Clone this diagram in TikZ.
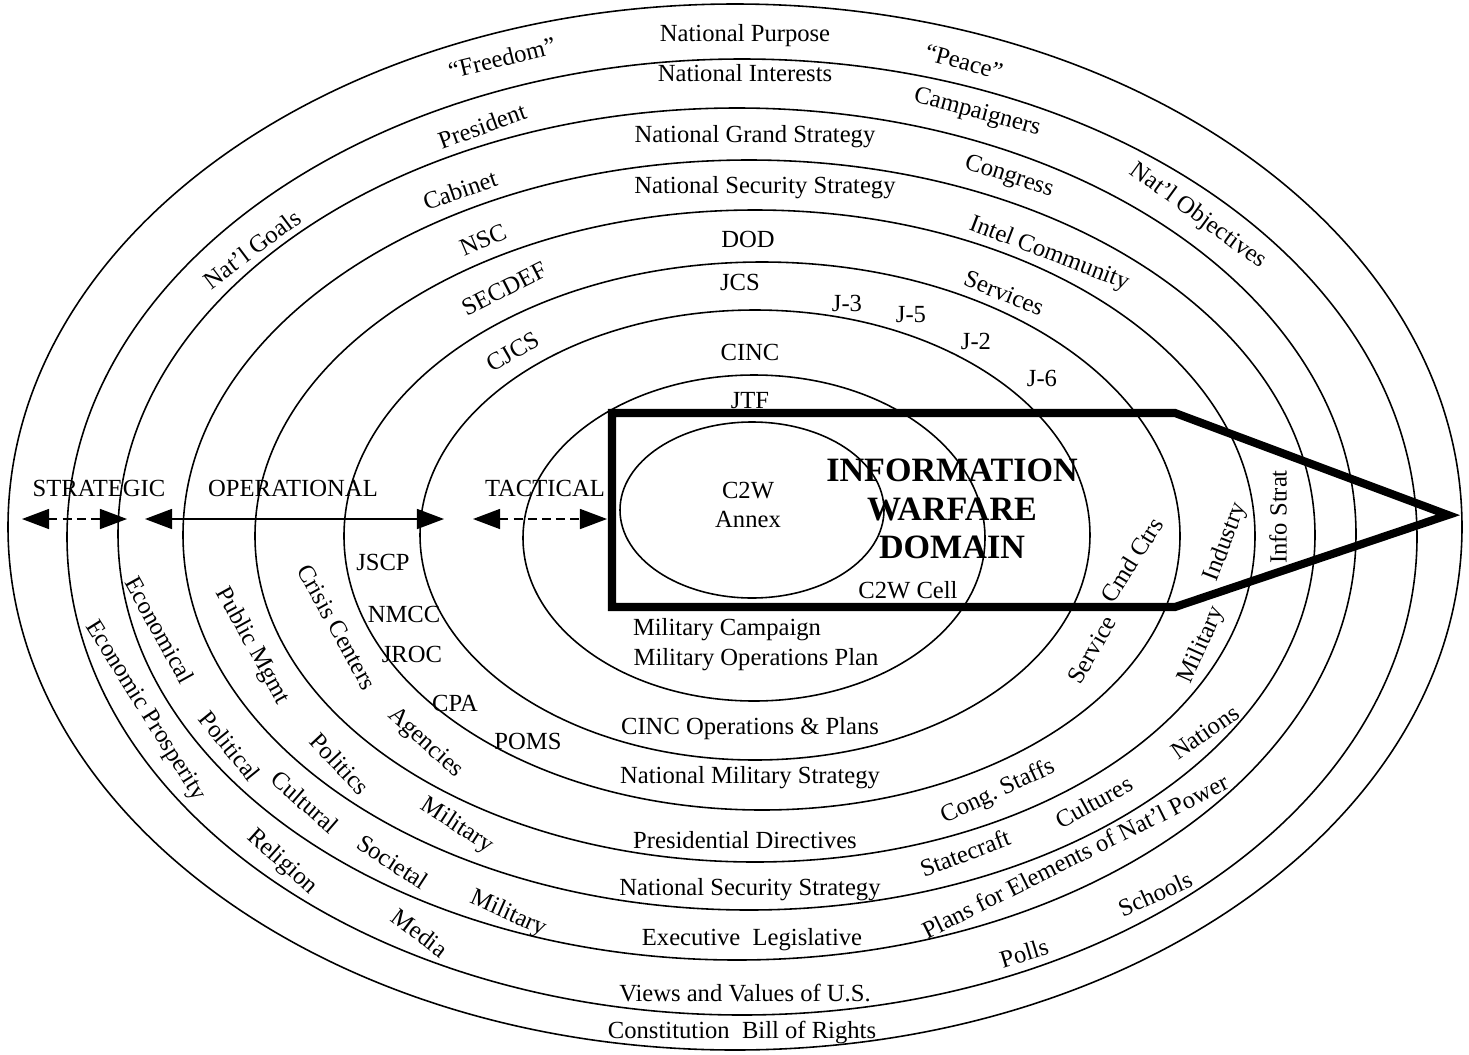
\documentclass[tikz,border=0pt]{standalone}
\usepackage{fontspec}
\setmainfont{Liberation Serif}
\usetikzlibrary{arrows.meta}
\tikzset{
  ring/.style={line width=0.45pt},
  iwbox/.style={line width=2.3pt, line join=miter},
  lbl/.style={font=\fontsize{7}{8.5}\selectfont, inner sep=0pt, align=center},
  bigtxt/.style={font=\fontsize{9.7}{11}\selectfont\bfseries, inner sep=0pt, align=center},
  span/.style={line width=0.4pt, {Triangle[length=0.27cm,width=0.2cm]}-{Triangle[length=0.27cm,width=0.2cm]}},
  dashspan/.style={span, dash pattern=on 2.5pt off 1.5pt}
}
\begin{document}
\begin{tikzpicture}[x=0.01cm,y=-0.01cm]
    \useasboundingbox (0,0) rectangle (1469,1054);

   %RINGS
    \foreach \cx/\cy/\rx/\ry in {735/527/727/523, 742/537/675/478, 737/534/619/426,
        749/535/566/375, 755/536/500/326, 762/536/418/274, 755/535/335/225,
        754/538/231/163, 752/510/132/88}
      \draw[ring] (\cx,\cy) ellipse ({\rx} and {\ry});

   %INFORMATION WARFARE DOMAIN
    \draw[iwbox] (612,413) -- (1175,413) -- (1448,515) -- (1175,607) -- (612,607) -- cycle;
    \node[bigtxt] (iwd) at (952,509) {INFORMATION\\WARFARE\\DOMAIN};

   %LEVEL ARROWS
    \coordinate (stratL) at (22,519);
    \coordinate (stratR) at (127,519);
    \coordinate (operL) at (145,519);
    \coordinate (operR) at (444,519);
    \coordinate (tactL) at (473,519);
    \coordinate (tactR) at (607,519);
    \draw[dashspan] (stratL) -- (stratR);
    \draw[span] (operL) -- (operR);
    \draw[dashspan] (tactL) -- (tactR);
    \node[lbl] (strategic) at (99,488) {STRATEGIC};
    \node[lbl] (operational) at (293,488) {OPERATIONAL};
    \node[lbl] (tactical) at (545,488) {TACTICAL};

   %CENTRE COLUMN
    \node[lbl] (purpose) at (745,36) {National Purpose};
    \node[lbl] (interests) at (745,73) {National Interests};
    \node[lbl] (grand) at (755,137) {National Grand Strategy};
    \node[lbl] (nsstop) at (765,188) {National Security Strategy};
    \node[lbl] (dod) at (748,239) {DOD};
    \node[lbl] (jcs) at (740,282) {JCS};
    \node[lbl] (cinc) at (750,352) {CINC};
    \node[lbl] (jtf) at (750,401) {JTF};
    \node[lbl] (annex) at (748,505) {C2W\\Annex};
    \node[lbl] (cell) at (908,590) {C2W Cell};
    \node[lbl] (campaign) at (727,630) {Military Campaign};
    \node[lbl] (opsplan) at (756,660) {Military Operations Plan};
    \node[lbl] (cincops) at (750,729) {CINC Operations \& Plans};
    \node[lbl] (nms) at (750,778) {National Military Strategy};
    \node[lbl] (pdir) at (745,840) {Presidential Directives};
    \node[lbl] (nssbot) at (750,890) {National Security Strategy};
    \node[lbl] (exleg) at (752,940) {Executive\enspace Legislative};
    \node[lbl] (views) at (745,993) {Views and Values of U.S.};
    \node[lbl] (const) at (742,1032) {Constitution\enspace Bill of Rights};

   %UPPER LEFT
    \node[lbl, rotate=14] (freedom) at (502,58) {“Freedom”};
    \node[lbl, rotate=20] (president) at (482,126) {President};
    \node[lbl, rotate=19] (cabinet) at (460,190) {Cabinet};
    \node[lbl, rotate=37] (natgoals) at (252,249) {Nat'l Goals};
    \node[lbl, rotate=23] (nsc) at (483,240) {NSC};
    \node[lbl, rotate=27] (secdef) at (504,289) {SECDEF};
    \node[lbl, rotate=30] (cjcs) at (513,352) {CJCS};

   %UPPER RIGHT
    \node[lbl, rotate=-15] (peace) at (964,62) {“Peace”};
    \node[lbl, rotate=-15] (campaigners) at (977,113) {Campaigners};
    \node[lbl, rotate=-18] (congress) at (1009,177) {Congress};
    \node[lbl, rotate=-36] (natobj) at (1198,216) {Nat'l Objectives};
    \node[lbl, rotate=-21] (intel) at (1049,254) {Intel Community};
    \node[lbl, rotate=-22] (services) at (1004,293) {Services};
    \node[lbl] (jthree) at (847,303) {J-3};
    \node[lbl] (jfive) at (911,315) {J-5};
    \node[lbl] (jtwo) at (976,341) {J-2};
    \node[lbl] (jsix) at (1042,378) {J-6};

   %LOWER LEFT
    \node[lbl] (jscp) at (383,562) {JSCP};
    \node[lbl] (nmcc) at (404,614) {NMCC};
    \node[lbl] (jroc) at (412,654) {JROC};
    \node[lbl] (cpa) at (455,703) {CPA};
    \node[lbl] (poms) at (528,741) {POMS};
    \node[lbl, rotate=-61] (crisis) at (337,627) {Crisis Centers};
    \node[lbl, rotate=-61] (pubmgmt) at (252,646) {Public Mgmt};
    \node[lbl, rotate=-61] (economical) at (160,630) {Economical};
    \node[lbl, rotate=-58] (ecoprosp) at (145,711) {Economic Prosperity};
    \node[lbl, rotate=-42] (agencies) at (425,743) {Agencies};
    \node[lbl, rotate=-47] (politics) at (340,764) {Politics};
    \node[lbl, rotate=-51] (political) at (230,746) {Political};
    \node[lbl, rotate=-41] (cultural) at (305,802) {Cultural};
    \node[lbl, rotate=-33] (milone) at (457,826) {Military};
    \node[lbl, rotate=-42] (religion) at (282,862) {Religion};
    \node[lbl, rotate=-33] (societal) at (393,862) {Societal};
    \node[lbl, rotate=-24] (miltwo) at (508,914) {Military};
    \node[lbl, rotate=-37] (media) at (420,933) {Media};

   %RIGHT
    \node[lbl, rotate=58] (cmdctrs) at (1132,560) {Cmd Ctrs};
    \node[lbl, rotate=60] (service) at (1092,650) {Service};
    \node[lbl, rotate=69] (industry) at (1226,542) {Industry};
    \node[lbl, rotate=66] (milthree) at (1202,645) {Military};
    \node[lbl, rotate=90] (infostrat) at (1278,517) {Info Strat};

   %LOWER RIGHT
    \node[lbl, rotate=25] (congstaffs) at (998,792) {Cong.\ Staffs};
    \node[lbl, rotate=35] (nations) at (1205,732) {Nations};
    \node[lbl, rotate=29] (cultures) at (1094,802) {Cultures};
    \node[lbl, rotate=21] (statecraft) at (965,853) {Statecraft};
    \node[lbl, rotate=26.5] (plans) at (1075,856) {Plans for Elements of Nat'l Power};
    \node[lbl, rotate=24] (schools) at (1155,894) {Schools};
    \node[lbl, rotate=17] (polls) at (1024,953) {Polls};
\end{tikzpicture}
\end{document}
